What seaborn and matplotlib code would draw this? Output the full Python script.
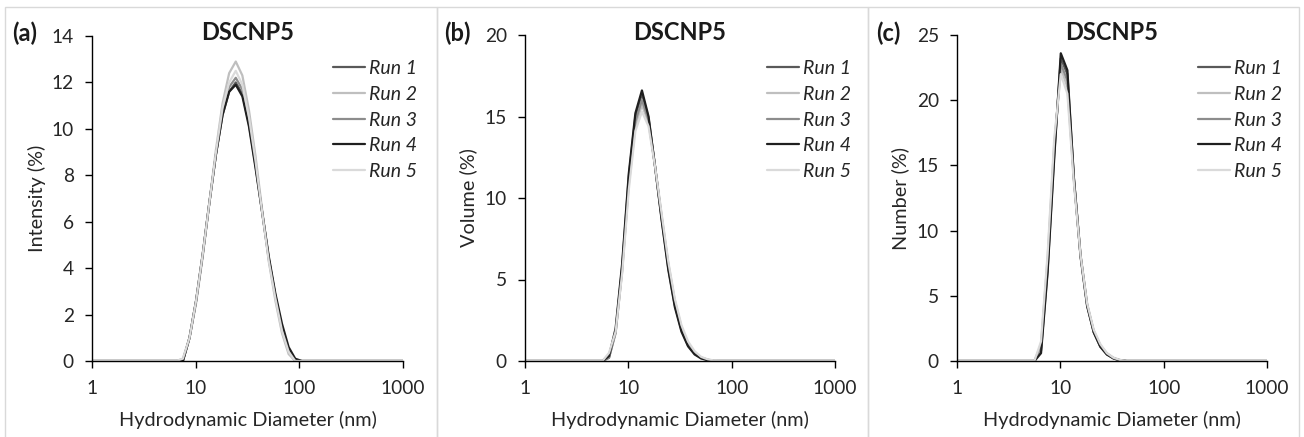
import numpy as np
import pandas as pd
import matplotlib
matplotlib.use("Agg")
import matplotlib.pyplot as plt
from matplotlib.patches import Rectangle
import seaborn as sns

# ---------------- data ----------------
runs = ["Run 1", "Run 2", "Run 3", "Run 4", "Run 5"]
run_colors = ["#595959", "#bfbfbf", "#8c8c8c", "#1f1f1f", "#dadada"]

# (a) Intensity distribution
diam_a = [1, 6.503, 7.531, 8.721, 10.10, 11.70, 13.54, 15.69, 18.17, 21.04, 24.36,
          28.21, 32.67, 37.84, 43.82, 50.75, 58.77, 68.06, 78.82, 91.28, 105.7, 1000]
int_run1 = [0, 0, 0, 1.0, 2.6, 4.6, 6.8, 8.9, 10.6, 11.6, 12.0, 11.5, 10.2, 8.4, 6.4, 4.4, 2.8, 1.4, 0.4, 0, 0, 0]
int_run2 = [0, 0, 0.1, 1.0, 2.5, 4.5, 6.8, 9.1, 11.1, 12.4, 12.9, 12.3, 10.8, 8.8, 6.5, 4.3, 2.6, 1.2, 0.3, 0, 0, 0]
int_run3 = [0, 0, 0, 1.0, 2.6, 4.6, 6.8, 8.9, 10.7, 11.8, 12.2, 11.7, 10.3, 8.5, 6.4, 4.4, 2.8, 1.4, 0.5, 0.05, 0, 0]
int_run4 = [0, 0, 0, 1.0, 2.6, 4.6, 6.8, 8.9, 10.6, 11.6, 11.9, 11.4, 10.1, 8.3, 6.4, 4.5, 2.9, 1.6, 0.6, 0.1, 0, 0]
int_run5 = [0, 0, 0.1, 1.0, 2.6, 4.6, 6.8, 9.0, 10.9, 12.0, 12.5, 11.9, 10.5, 8.6, 6.4, 4.3, 2.7, 1.3, 0.4, 0, 0, 0]

# (b) Volume distribution
diam_b = [1, 5.615, 6.503, 7.531, 8.721, 10.10, 11.70, 13.54, 15.69, 18.17, 21.04,
          24.36, 28.21, 32.67, 37.84, 43.82, 50.75, 58.77, 68.06, 78.82, 1000]
vol_run1 = [0, 0, 0.2, 1.8, 5.8, 11.3, 15.0, 16.4, 14.9, 11.9, 8.7, 5.7, 3.4, 1.9, 0.95, 0.45, 0.2, 0.05, 0, 0, 0]
vol_run2 = [0, 0, 0.4, 1.8, 5.5, 10.8, 14.4, 15.7, 14.6, 11.9, 8.9, 6.0, 3.7, 2.1, 1.1, 0.5, 0.22, 0.08, 0.02, 0, 0]
vol_run3 = [0, 0, 0.2, 1.7, 5.6, 11.0, 14.7, 16.0, 14.8, 11.9, 8.8, 5.9, 3.6, 2.0, 1.0, 0.5, 0.2, 0.08, 0, 0, 0]
vol_run4 = [0, 0, 0.3, 2.0, 6.0, 11.5, 15.2, 16.6, 15.0, 11.9, 8.6, 5.6, 3.3, 1.8, 0.9, 0.4, 0.15, 0.05, 0, 0, 0]
vol_run5 = [0, 0, 0.5, 1.8, 5.4, 10.5, 14.1, 15.3, 14.4, 11.9, 9.0, 6.1, 3.8, 2.2, 1.2, 0.6, 0.25, 0.1, 0.03, 0, 0]

# (c) Number distribution
diam_c = [1, 5.615, 6.503, 7.531, 8.721, 10.10, 11.70, 13.54, 15.69, 18.17, 21.04,
          24.36, 28.21, 32.67, 37.84, 43.82, 1000]
num_run1 = [0, 0, 0.8, 7.0, 15.8, 23.2, 22.0, 14.0, 8.1, 4.3, 2.2, 1.1, 0.5, 0.2, 0.05, 0, 0]
num_run2 = [0, 0, 1.3, 7.9, 16.6, 22.4, 21.0, 13.8, 8.1, 4.4, 2.3, 1.2, 0.6, 0.25, 0.08, 0, 0]
num_run3 = [0, 0, 1.0, 7.4, 16.2, 22.8, 21.5, 13.9, 8.1, 4.3, 2.3, 1.2, 0.55, 0.2, 0.06, 0, 0]
num_run4 = [0, 0, 0.6, 6.8, 15.5, 23.6, 22.3, 14.0, 8.0, 4.2, 2.2, 1.1, 0.5, 0.2, 0.05, 0, 0]
num_run5 = [0, 0, 1.5, 8.2, 17.0, 22.0, 20.5, 13.6, 8.1, 4.4, 2.4, 1.3, 0.6, 0.25, 0.08, 0, 0]

panel_tags = ["(a)", "(b)", "(c)"]
y_labels = ["Intensity (%)", "Volume (%)", "Number (%)"]
y_ticks = [[0, 2, 4, 6, 8, 10, 12, 14], [0, 5, 10, 15, 20], [0, 5, 10, 15, 20, 25]]
x_ticks = [1, 10, 100, 1000]
x_ticklabels = ["1", "10", "100", "1000"]
title = "DSCNP5"
x_label = "Hydrodynamic Diameter (nm)"


def long_df(diam, series):
    frames = []
    for name, vals in zip(runs, series):
        frames.append(pd.DataFrame({"d": diam, "v": vals, "run": name}))
    return pd.concat(frames, ignore_index=True)


panels = [
    long_df(diam_a, [int_run1, int_run2, int_run3, int_run4, int_run5]),
    long_df(diam_b, [vol_run1, vol_run2, vol_run3, vol_run4, vol_run5]),
    long_df(diam_c, [num_run1, num_run2, num_run3, num_run4, num_run5]),
]

# ---------------- style ----------------
sns.set_style("ticks")
plt.rcParams["font.family"] = ["Lato", "DejaVu Sans"]
plt.rcParams["text.color"] = "#262626"
plt.rcParams["axes.labelcolor"] = "#262626"
plt.rcParams["xtick.color"] = "#000000"
plt.rcParams["ytick.color"] = "#000000"
plt.rcParams["xtick.labelcolor"] = "#262626"
plt.rcParams["ytick.labelcolor"] = "#262626"

W, H = 1304, 437
fig = plt.figure(figsize=(W / 100, H / 100), dpi=100)

# panel frames (px)
frames_px = [(5, 437), (437, 868), (868, 1299)]
for x0, x1 in frames_px:
    fig.add_artist(Rectangle((x0 / W, -0.1), (x1 - x0) / W, (H - 7) / H + 0.1,
                             transform=fig.transFigure, fill=False,
                             ec="#d9d9d9", lw=1.0, zorder=0))

axes_px = [(92, 403, 36, 361), (525, 835, 35, 361), (957, 1267, 35, 361)]
ylab_x = [-0.177, -0.184, -0.184]
tag_x = [12, 444, 876]
legend_x = [333, 767, 1198]

for i, (ax_px, df) in enumerate(zip(axes_px, panels)):
    l, r, t, b = ax_px
    ax = fig.add_axes([l / W, (H - b) / H, (r - l) / W, (b - t) / H])
    sns.lineplot(data=df, x="d", y="v", hue="run", palette=run_colors,
                 hue_order=runs, lw=1.6, ax=ax, legend=True, sort=False)
    ax.set_xscale("log")
    ax.set_xlim(1, 1000)
    ax.set_ylim(0, y_ticks[i][-1])
    ax.set_xticks(x_ticks)
    ax.set_xticklabels(x_ticklabels)
    ax.xaxis.set_minor_locator(matplotlib.ticker.NullLocator())
    ax.set_yticks(y_ticks[i])
    ax.tick_params(axis="both", direction="out", length=5, width=1.0, labelsize=13.8)
    ax.tick_params(axis="y", pad=8)
    ax.tick_params(axis="x", pad=9)
    for s in ["top", "right"]:
        ax.spines[s].set_visible(False)
    for s in ["left", "bottom"]:
        ax.spines[s].set_color("#000000")
        ax.spines[s].set_linewidth(1.0)
    ax.set_xlabel(x_label, fontsize=14.3, va="center")
    ax.xaxis.set_label_coords(0.5, (b - 420) / (b - t))
    ax.set_ylabel(y_labels[i], fontsize=14.3, va="center")
    ax.yaxis.set_label_coords(ylab_x[i], 0.5)
    ax.text(0.5, (b - 32) / (b - t), title, transform=ax.transAxes,
            ha="center", va="center", fontsize=17, fontweight="bold", color="#1a1a1a")
    fig.text(tag_x[i] / W, (H - 33) / H, panel_tags[i], ha="left", va="center",
             fontsize=17, fontweight="bold", color="#1a1a1a")
    leg = ax.legend(loc="upper left",
                    bbox_to_anchor=((legend_x[i] - l) / (r - l), (b - 60) / (b - t)),
                    frameon=False, borderpad=0, borderaxespad=0,
                    handlelength=1.65, handletextpad=0.2, labelspacing=0.45,
                    prop={"style": "italic", "size": 14})
    for line in leg.get_lines():
        line.set_linewidth(1.6)

fig.savefig("out.png", dpi=100)
